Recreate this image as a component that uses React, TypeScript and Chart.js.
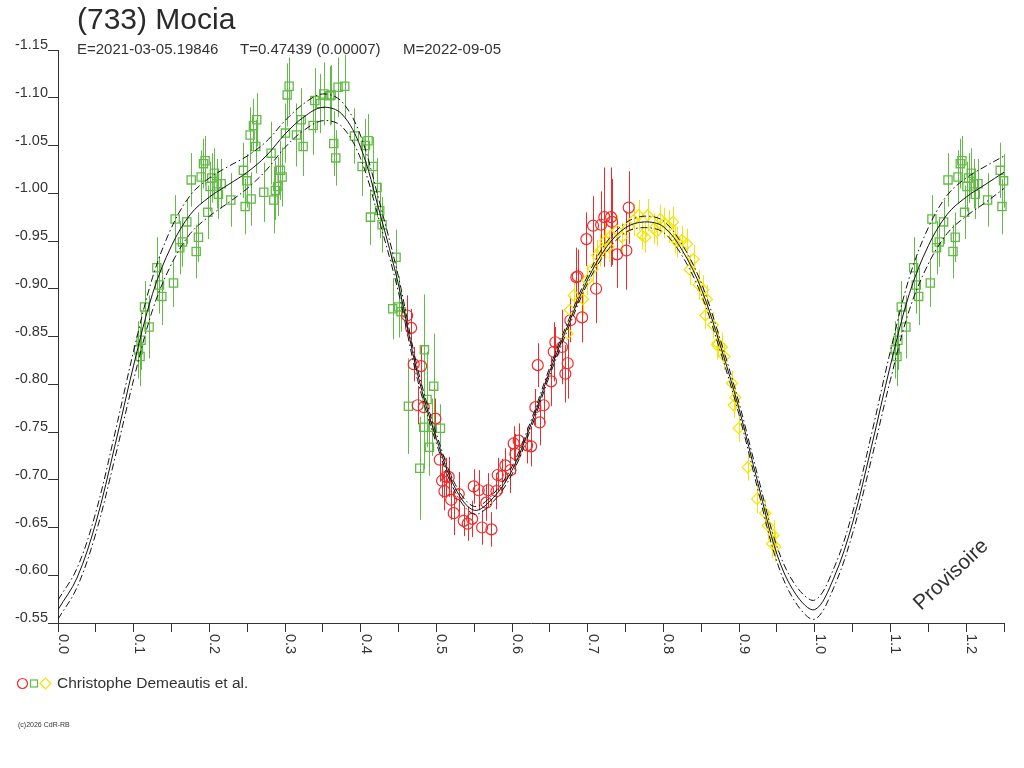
import { useEffect, useRef } from 'react';
import { Chart, registerables } from 'chart.js';

Chart.register(...registerables);

const TITLE = '(733) Mocia';
const EPOCH = 'E=2021-03-05.19846';
const PERIOD = 'T=0.47439 (0.00007)';
const MIDDATE = 'M=2022-09-05';
const OBSERVER = 'Christophe Demeautis et al.';
const STAMP = '(c)2026 CdR-RB';
const WATERMARK = 'Provisoire';

const xTickLabels = ['0.0', '0.1', '0.2', '0.3', '0.4', '0.5', '0.6', '0.7', '0.8', '0.9', '1.0', '1.1', '1.2'];

// green squares
const greenPhase = [
  0.1085, 0.1098, 0.1063, 0.1143, 0.1204, 0.1306, 0.1341, 0.1372, 0.1526, 0.1548,
  0.1609, 0.1645, 0.1702, 0.1760, 0.1826, 0.1856, 0.1892, 0.1922, 0.1944, 0.1979,
  0.2010, 0.2032, 0.2067, 0.2098, 0.2120, 0.2156, 0.2283, 0.2450, 0.2473, 0.2494,
  0.2552, 0.2539, 0.2583, 0.2613, 0.2626, 0.2719, 0.2816, 0.2851, 0.2873, 0.2904,
  0.2939, 0.2962, 0.3005, 0.3028, 0.3054, 0.3151, 0.3213, 0.3239, 0.3371, 0.3393,
  0.3468, 0.3511, 0.3591, 0.3609, 0.3644, 0.3670, 0.3701, 0.3789, 0.3917, 0.4018,
  0.4062, 0.4097, 0.4164, 0.4216, 0.4128, 0.4251, 0.4282, 0.4467, 0.4423, 0.4502,
  0.4533, 0.4841, 0.4630, 0.4965, 0.4877, 0.4833, 0.4908, 0.4780, 0.5053, 0.4943,
];
const greenMag = [
  -0.829, -0.846, -0.836, -0.881, -0.860, -0.922, -0.904, -0.892, -0.906, -0.973,
  -0.943, -0.949, -0.970, -1.014, -0.939, -0.954, -1.017, -1.031, -1.034, -0.980,
  -1.007, -1.016, -1.021, -1.010, -0.999, -1.010, -0.993, -1.024, -0.986, -1.013,
  -0.994, -1.061, -1.071, -1.049, -1.077, -1.001, -1.042, -0.993, -1.003, -1.007,
  -1.024, -1.017, -1.063, -1.103, -1.112, -1.061, -1.077, -1.049, -1.071, -1.097,
  -1.094, -1.104, -1.102, -1.103, -1.052, -1.037, -1.111, -1.112, -1.060, -1.028,
  -1.050, -1.055, -1.028, -1.006, -0.975, -0.982, -0.967, -0.933, -0.879, -0.881,
  -0.876, -0.836, -0.777, -0.798, -0.784, -0.755, -0.734, -0.712, -0.754, -0.755,
];
const greenErr = [
  0.031, 0.031, 0.030, 0.027, 0.033, 0.032, 0.030, 0.030, 0.025, 0.025,
  0.028, 0.026, 0.023, 0.028, 0.028, 0.026, 0.028, 0.026, 0.026, 0.028,
  0.026, 0.026, 0.026, 0.026, 0.026, 0.026, 0.028, 0.029, 0.029, 0.028,
  0.028, 0.029, 0.028, 0.028, 0.028, 0.031, 0.033, 0.035, 0.031, 0.031,
  0.031, 0.031, 0.031, 0.033, 0.030, 0.033, 0.033, 0.031, 0.031, 0.034,
  0.031, 0.033, 0.031, 0.031, 0.034, 0.029, 0.031, 0.033, 0.029, 0.031,
  0.028, 0.028, 0.031, 0.031, 0.029, 0.029, 0.029, 0.029, 0.032, 0.032,
  0.021, 0.058, 0.050, 0.055, 0.050, 0.044, 0.030, 0.054, 0.025, 0.030,
];

// red circles
const redPhase = [
  0.4613, 0.4666, 0.4700, 0.4798, 0.4753, 0.4833, 0.4987, 0.5044, 0.5075, 0.5128,
  0.5163, 0.5106, 0.5195, 0.5295, 0.5229, 0.5361, 0.5414, 0.5493, 0.5559, 0.5472,
  0.5604, 0.5660, 0.5683, 0.5727, 0.5793, 0.5810, 0.5868, 0.5911, 0.5978, 0.6044,
  0.6021, 0.6087, 0.6198, 0.6251, 0.6308, 0.6365, 0.6418, 0.6339, 0.6515, 0.6550,
  0.6572, 0.6660, 0.6735, 0.6704, 0.6770, 0.6849, 0.6867, 0.6925, 0.6982, 0.7070,
  0.7110, 0.7176, 0.7219, 0.7308, 0.7321, 0.7387, 0.7510, 0.7541,
];
const redMag = [
  -0.872, -0.859, -0.821, -0.819, -0.778, -0.776, -0.764, -0.721, -0.699, -0.703,
  -0.703, -0.688, -0.679, -0.685, -0.665, -0.657, -0.654, -0.693, -0.689, -0.659,
  -0.650, -0.676, -0.689, -0.648, -0.688, -0.705, -0.704, -0.715, -0.710, -0.727,
  -0.738, -0.741, -0.736, -0.735, -0.776, -0.760, -0.778, -0.820, -0.803, -0.834,
  -0.844, -0.839, -0.822, -0.811, -0.867, -0.912, -0.913, -0.870, -0.952, -0.966,
  -0.900, -0.967, -0.975, -0.975, -0.970, -0.936, -0.940, -0.985,
];
const redErr = [
  0.021, 0.020, 0.018, 0.021, 0.020, 0.023, 0.021, 0.023, 0.018, 0.020,
  0.021, 0.020, 0.021, 0.023, 0.023, 0.016, 0.018, 0.018, 0.021, 0.019,
  0.018, 0.019, 0.018, 0.018, 0.019, 0.018, 0.018, 0.018, 0.024, 0.021,
  0.018, 0.018, 0.019, 0.021, 0.019, 0.024, 0.019, 0.023, 0.026, 0.031,
  0.016, 0.039, 0.037, 0.030, 0.023, 0.031, 0.028, 0.026, 0.028, 0.031,
  0.036, 0.035, 0.052, 0.052, 0.045, 0.035, 0.041, 0.038,
];

// yellow diamonds
const yellowPhase = [
  0.6735, 0.6761, 0.6814, 0.6938, 0.6991, 0.7070, 0.7123, 0.7167, 0.7232, 0.7276,
  0.7308, 0.7387, 0.7453, 0.7541, 0.7606, 0.7672, 0.7717, 0.7761, 0.7791, 0.7871,
  0.7915, 0.7959, 0.8012, 0.8069, 0.8127, 0.8157, 0.8180, 0.8246, 0.8312, 0.8346,
  0.8399, 0.8465, 0.8523, 0.8553, 0.8576, 0.8655, 0.8708, 0.8716, 0.8774, 0.8805,
  0.8906, 0.8950, 0.8928, 0.8994, 0.9113, 0.9236, 0.9346, 0.9377, 0.9456, 0.9435,
  0.9478,
];
const yellowMag = [
  -0.853, -0.878, -0.893, -0.889, -0.909, -0.921, -0.935, -0.940, -0.950, -0.944,
  -0.956, -0.961, -0.954, -0.965, -0.972, -0.977, -0.956, -0.954, -0.977, -0.963,
  -0.960, -0.973, -0.969, -0.965, -0.970, -0.952, -0.949, -0.951, -0.947, -0.920,
  -0.931, -0.904, -0.899, -0.872, -0.889, -0.862, -0.841, -0.843, -0.839, -0.829,
  -0.801, -0.786, -0.778, -0.754, -0.713, -0.680, -0.665, -0.652, -0.642, -0.633,
  -0.630,
];
const yellowErr = [
  0.014, 0.015, 0.016, 0.017, 0.016, 0.017, 0.016, 0.017, 0.018, 0.016,
  0.017, 0.016, 0.015, 0.016, 0.017, 0.016, 0.015, 0.016, 0.017, 0.016,
  0.016, 0.015, 0.016, 0.017, 0.016, 0.015, 0.016, 0.015, 0.016, 0.016,
  0.015, 0.016, 0.015, 0.014, 0.015, 0.014, 0.015, 0.014, 0.015, 0.014,
  0.013, 0.014, 0.013, 0.014, 0.014, 0.015, 0.014, 0.015, 0.016, 0.015,
  0.016,
];

// fitted curve and its envelope
const fitPhase = [
  0.000, 0.025, 0.050, 0.075, 0.100, 0.125, 0.150, 0.175, 0.200, 0.225,
  0.250, 0.275, 0.300, 0.325, 0.350, 0.375, 0.400, 0.425, 0.450, 0.475,
  0.500, 0.525, 0.550, 0.575, 0.600, 0.625, 0.650, 0.675, 0.700, 0.725,
  0.750, 0.775, 0.800, 0.825, 0.850, 0.875, 0.900, 0.925, 0.950, 0.975,
  1.000, 1.025, 1.050, 1.075, 1.100, 1.125, 1.150, 1.175, 1.200, 1.225,
  1.250,
];
const fitMag = [
  -0.564, -0.597, -0.655, -0.735, -0.820, -0.895, -0.945, -0.978, -0.996, -1.009,
  -1.022, -1.039, -1.062, -1.080, -1.090, -1.083, -1.048, -0.980, -0.904, -0.811,
  -0.743, -0.691, -0.668, -0.681, -0.710, -0.758, -0.814, -0.864, -0.910, -0.944,
  -0.964, -0.970, -0.965, -0.940, -0.900, -0.841, -0.774, -0.696, -0.622, -0.580,
  -0.564, -0.597, -0.655, -0.735, -0.820, -0.895, -0.945, -0.978, -0.996, -1.009,
  -1.022,
];
const fitUpper = [
  -0.574, -0.607, -0.666, -0.748, -0.835, -0.912, -0.964, -0.998, -1.016, -1.028,
  -1.039, -1.054, -1.076, -1.094, -1.104, -1.096, -1.060, -0.990, -0.912, -0.817,
  -0.748, -0.695, -0.672, -0.685, -0.714, -0.762, -0.818, -0.868, -0.914, -0.949,
  -0.969, -0.976, -0.971, -0.946, -0.906, -0.847, -0.780, -0.703, -0.630, -0.589,
  -0.574, -0.607, -0.666, -0.748, -0.835, -0.912, -0.964, -0.998, -1.016, -1.028,
  -1.039,
];
const fitLower = [
  -0.554, -0.587, -0.644, -0.722, -0.805, -0.878, -0.926, -0.958, -0.976, -0.990,
  -1.005, -1.024, -1.048, -1.066, -1.076, -1.070, -1.036, -0.970, -0.896, -0.805,
  -0.738, -0.687, -0.664, -0.677, -0.706, -0.754, -0.810, -0.860, -0.906, -0.939,
  -0.959, -0.964, -0.959, -0.934, -0.894, -0.835, -0.768, -0.689, -0.614, -0.571,
  -0.554, -0.587, -0.644, -0.722, -0.805, -0.878, -0.926, -0.958, -0.976, -0.990,
  -1.005,
];

const GREEN = '#62bb46';
const RED = '#f02a2a';
const YELLOW = '#f5e400';
const INK = '#333333';

const points = (ph: number[], mg: number[], er: number[]) =>
  ph.map((p, i) => ({ x: p, y: mg[i], e: er[i] }));

// the phase plot repeats the start of the cycle past 1.0
const greenPoints = [
  ...points(greenPhase, greenMag, greenErr),
  ...points(greenPhase, greenMag, greenErr)
    .filter((p) => p.x < 0.25)
    .map((p) => ({ ...p, x: p.x + 1 })),
];

const errorBars = {
  id: 'errorBars',
  beforeDatasetsDraw(chart: any) {
    const { ctx, scales } = chart;
    const { x, y } = scales;
    ctx.save();
    ctx.lineWidth = 1;
    chart.data.datasets.forEach((ds: any) => {
      if (!ds.errColor) return;
      ctx.strokeStyle = ds.errColor;
      ds.data.forEach((p: any) => {
        const px = Math.round(x.getPixelForValue(p.x)) + 0.5;
        ctx.beginPath();
        ctx.moveTo(px, y.getPixelForValue(p.y - p.e));
        ctx.lineTo(px, y.getPixelForValue(p.y + p.e));
        ctx.stroke();
      });
    });
    ctx.restore();
  },
  afterDraw(chart: any) {
    const { ctx, scales, chartArea } = chart;
    ctx.save();
    ctx.fillStyle = INK;
    ctx.font = '14.5px "Liberation Sans", Arial, sans-serif';
    ctx.textAlign = 'left';
    ctx.textBaseline = 'alphabetic';
    xTickLabels.forEach((label) => {
      const px = scales.x.getPixelForValue(parseFloat(label));
      ctx.save();
      ctx.translate(Math.round(px) + 0.5, chartArea.bottom + 11);
      ctx.rotate(Math.PI / 2);
      ctx.fillText(label, 0, 0);
      ctx.restore();
    });
    ctx.translate(921, 611);
    ctx.rotate(-0.75);
    ctx.font = '21px "Liberation Sans", Arial, sans-serif';
    ctx.fillText(WATERMARK, 0, 0);
    ctx.restore();
  },
};

const App = () => {
  const canvasRef = useRef<HTMLCanvasElement>(null);

  useEffect(() => {
    if (!canvasRef.current) return;
    const chart = new Chart(canvasRef.current, {
      type: 'scatter',
      data: {
        datasets: [
          {
            type: 'line',
            data: fitPhase.map((p, i) => ({ x: p, y: fitMag[i] })),
            borderColor: '#111',
            borderWidth: 1,
            pointRadius: 0,
            tension: 0.35,
            fill: false,
          },
          {
            type: 'line',
            data: fitPhase.map((p, i) => ({ x: p, y: fitUpper[i] })),
            borderColor: '#111',
            borderWidth: 1,
            borderDash: [7, 3, 1.5, 3],
            pointRadius: 0,
            tension: 0.35,
            fill: false,
          },
          {
            type: 'line',
            data: fitPhase.map((p, i) => ({ x: p, y: fitLower[i] })),
            borderColor: '#111',
            borderWidth: 1,
            borderDash: [7, 3, 1.5, 3],
            pointRadius: 0,
            tension: 0.35,
            fill: false,
          },
          {
            data: points(yellowPhase, yellowMag, yellowErr),
            errColor: YELLOW,
            pointStyle: 'rectRot',
            pointRadius: 5.5,
            borderWidth: 1.2,
            borderColor: YELLOW,
            backgroundColor: 'rgba(0,0,0,0)',
            clip: false,
          } as any,
          {
            data: points(redPhase, redMag, redErr),
            errColor: RED,
            pointStyle: 'circle',
            pointRadius: 5.5,
            borderWidth: 1.2,
            borderColor: RED,
            backgroundColor: 'rgba(0,0,0,0)',
            clip: false,
          } as any,
          {
            data: greenPoints,
            errColor: GREEN,
            pointStyle: 'rect',
            pointRadius: 5.8,
            borderWidth: 1.3,
            borderColor: GREEN,
            backgroundColor: 'rgba(0,0,0,0)',
            clip: false,
          } as any,
        ],
      },
      options: {
        animation: false,
        responsive: false,
        devicePixelRatio: 1,
        layout: { padding: { left: 0, right: 20, top: 50, bottom: 85 } },
        plugins: { legend: { display: false }, tooltip: { enabled: false } },
        scales: {
          x: {
            type: 'linear',
            min: 0,
            max: 1.25,
            afterFit: (s: any) => { s.height = 60; },
            border: { color: INK, width: 1 },
            grid: { drawOnChartArea: false, drawTicks: true, tickLength: 9, color: INK },
            ticks: { stepSize: 0.05, maxTicksLimit: 100, autoSkip: false, maxRotation: 0, callback: () => '' },
          },
          y: {
            type: 'linear',
            reverse: true,
            min: -1.15,
            max: -0.55,
            afterFit: (s: any) => { s.width = 58; },
            border: { color: INK, width: 1 },
            grid: { drawOnChartArea: false, drawTicks: true, tickLength: 10, color: INK },
            ticks: {
              stepSize: 0.05,
              maxTicksLimit: 100,
              autoSkip: false,
              padding: 0,
              labelOffset: -5,
              color: INK,
              font: { family: '"Liberation Sans", Arial, sans-serif', size: 14.5 },
              callback: (v: any) => Number(v).toFixed(2),
            },
          },
        },
      },
      plugins: [errorBars],
    });
    return () => chart.destroy();
  }, []);

  return (
    <div
      style={{
        position: 'fixed',
        left: 0,
        top: 0,
        width: 1024,
        height: 768,
        background: '#fff',
        color: INK,
        fontFamily: '"Liberation Sans", Arial, sans-serif',
        overflow: 'hidden',
      }}
    >
      <canvas ref={canvasRef} width={1024} height={768} style={{ position: 'absolute', left: 0, top: 0 }} />
      <div style={{ position: 'absolute', left: 77, top: 4, fontSize: 30, lineHeight: 1, whiteSpace: 'nowrap', color: '#2a2a2a' }}>
        {TITLE}
      </div>
      <div style={{ position: 'absolute', left: 77, top: 40.6, fontSize: 15, lineHeight: 1, whiteSpace: 'nowrap' }}>{EPOCH}</div>
      <div style={{ position: 'absolute', left: 240, top: 40.6, fontSize: 15, lineHeight: 1, whiteSpace: 'nowrap' }}>{PERIOD}</div>
      <div style={{ position: 'absolute', left: 403, top: 40.6, fontSize: 15, lineHeight: 1, whiteSpace: 'nowrap' }}>{MIDDATE}</div>
      <svg width={40} height={16} style={{ position: 'absolute', left: 16, top: 676 }}>
        <circle cx={6.5} cy={7.5} r={5} fill="none" stroke={RED} strokeWidth={1.2} />
        <rect x={14.5} y={4} width={7} height={7} fill="none" stroke={GREEN} strokeWidth={1.2} />
        <polygon points="24,7.5 29.5,2 35,7.5 29.5,13" fill="none" stroke={YELLOW} strokeWidth={1.2} />
      </svg>
      <div style={{ position: 'absolute', left: 57, top: 675, fontSize: 15.5, lineHeight: 1, whiteSpace: 'nowrap' }}>{OBSERVER}</div>
      <div style={{ position: 'absolute', left: 18, top: 721, fontSize: 7, lineHeight: 1, whiteSpace: 'nowrap' }}>{STAMP}</div>
    </div>
  );
};

export default App;
